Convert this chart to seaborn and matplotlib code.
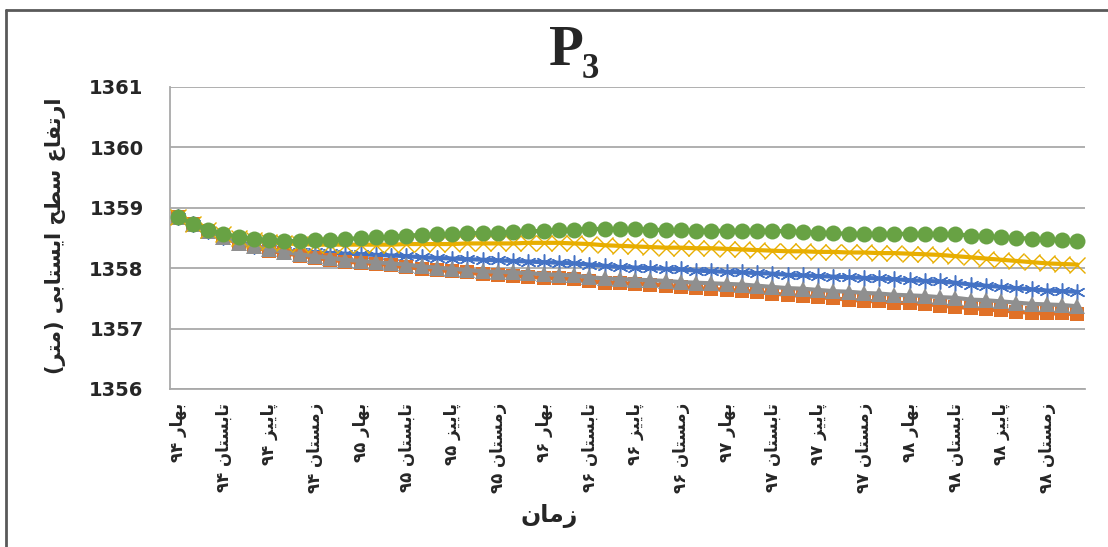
import numpy as np
import pandas as pd
import matplotlib
matplotlib.use("Agg")
import matplotlib.pyplot as plt
from matplotlib.lines import Line2D
import seaborn as sns

# ---------------------------------------------------------------- data
seasons = ["بهار", "تابستان", "پاییز", "زمستان"]
years = ["۹۴", "۹۵", "۹۶", "۹۷", "۹۸"]
tick_labels = [f"{s} {y}" for y in years for s in seasons]

title_main = "P"
title_sub = "3"
x_title = "زمان"
y_title = "ارتفاع سطح ایستابی (متر)"

y_ticks = [1356, 1357, 1358, 1359, 1360, 1361]

# monthly water-table elevation (m), 60 months
series_blue = [1358.85, 1358.73, 1358.62, 1358.52, 1358.44, 1358.37, 1358.32, 1358.29, 1358.27, 1358.26,
               1358.25, 1358.24, 1358.23, 1358.22, 1358.21, 1358.20, 1358.18, 1358.17, 1358.16, 1358.15,
               1358.14, 1358.13, 1358.12, 1358.11, 1358.10, 1358.09, 1358.08, 1358.06, 1358.04, 1358.02,
               1358.01, 1358.00, 1357.99, 1357.98, 1357.96, 1357.95, 1357.94, 1357.93, 1357.92, 1357.91,
               1357.89, 1357.88, 1357.87, 1357.86, 1357.85, 1357.84, 1357.83, 1357.82, 1357.80, 1357.79,
               1357.78, 1357.76, 1357.73, 1357.71, 1357.69, 1357.67, 1357.65, 1357.63, 1357.62, 1357.61]
series_orange = [1358.85, 1358.73, 1358.62, 1358.51, 1358.41, 1358.35, 1358.29, 1358.25, 1358.21, 1358.17,
                 1358.14, 1358.11, 1358.09, 1358.07, 1358.05, 1358.02, 1357.99, 1357.97, 1357.95, 1357.93,
                 1357.90, 1357.89, 1357.87, 1357.86, 1357.84, 1357.83, 1357.82, 1357.78, 1357.76, 1357.75,
                 1357.74, 1357.73, 1357.71, 1357.69, 1357.67, 1357.66, 1357.64, 1357.63, 1357.61, 1357.58,
                 1357.56, 1357.54, 1357.52, 1357.50, 1357.48, 1357.46, 1357.45, 1357.43, 1357.42, 1357.41,
                 1357.38, 1357.36, 1357.34, 1357.32, 1357.30, 1357.28, 1357.26, 1357.25, 1357.25, 1357.24]
series_gray = [1358.85, 1358.73, 1358.62, 1358.52, 1358.42, 1358.36, 1358.31, 1358.27, 1358.23, 1358.20,
               1358.17, 1358.14, 1358.12, 1358.10, 1358.08, 1358.06, 1358.03, 1358.01, 1357.99, 1357.97,
               1357.95, 1357.94, 1357.93, 1357.92, 1357.90, 1357.89, 1357.88, 1357.85, 1357.83, 1357.82,
               1357.81, 1357.80, 1357.79, 1357.77, 1357.76, 1357.75, 1357.74, 1357.73, 1357.71, 1357.69,
               1357.67, 1357.66, 1357.64, 1357.62, 1357.61, 1357.59, 1357.58, 1357.56, 1357.55, 1357.54,
               1357.52, 1357.51, 1357.48, 1357.47, 1357.45, 1357.43, 1357.41, 1357.40, 1357.39, 1357.37]
series_yellow = [1358.85, 1358.74, 1358.64, 1358.56, 1358.50, 1358.46, 1358.43, 1358.41, 1358.40, 1358.39,
                 1358.39, 1358.39, 1358.39, 1358.39, 1358.39, 1358.40, 1358.40, 1358.40, 1358.40, 1358.41,
                 1358.41, 1358.41, 1358.41, 1358.42, 1358.42, 1358.42, 1358.41, 1358.40, 1358.38, 1358.37,
                 1358.36, 1358.35, 1358.34, 1358.34, 1358.33, 1358.33, 1358.32, 1358.31, 1358.30, 1358.29,
                 1358.28, 1358.28, 1358.27, 1358.27, 1358.26, 1358.26, 1358.25, 1358.25, 1358.24, 1358.23,
                 1358.22, 1358.20, 1358.18, 1358.16, 1358.14, 1358.12, 1358.10, 1358.08, 1358.07, 1358.06]
series_green = [1358.85, 1358.74, 1358.64, 1358.57, 1358.52, 1358.48, 1358.46, 1358.45, 1358.45, 1358.46,
                1358.47, 1358.48, 1358.50, 1358.51, 1358.52, 1358.54, 1358.55, 1358.56, 1358.57, 1358.58,
                1358.58, 1358.59, 1358.60, 1358.61, 1358.62, 1358.63, 1358.64, 1358.65, 1358.65, 1358.65,
                1358.65, 1358.64, 1358.63, 1358.63, 1358.62, 1358.62, 1358.62, 1358.62, 1358.62, 1358.62,
                1358.61, 1358.60, 1358.59, 1358.58, 1358.57, 1358.57, 1358.57, 1358.57, 1358.57, 1358.57,
                1358.57, 1358.56, 1358.54, 1358.53, 1358.51, 1358.50, 1358.49, 1358.48, 1358.46, 1358.45]

# ---------------------------------------------------------------- Persian text layout helpers
# contextual forms: isolated, final, initial, medial
_FORMS = {
    "\u0627": ("\uFE8D", "\uFE8E", None, None),
    "\u0628": ("\uFE8F", "\uFE90", "\uFE91", "\uFE92"),
    "\u062A": ("\uFE95", "\uFE96", "\uFE97", "\uFE98"),
    "\u062D": ("\uFEA1", "\uFEA2", "\uFEA3", "\uFEA4"),
    "\u0631": ("\uFEAD", "\uFEAE", None, None),
    "\u0632": ("\uFEAF", "\uFEB0", None, None),
    "\u0633": ("\uFEB1", "\uFEB2", "\uFEB3", "\uFEB4"),
    "\u0637": ("\uFEC1", "\uFEC2", "\uFEC3", "\uFEC4"),
    "\u0639": ("\uFEC9", "\uFECA", "\uFECB", "\uFECC"),
    "\u0641": ("\uFED1", "\uFED2", "\uFED3", "\uFED4"),
    "\u0645": ("\uFEE1", "\uFEE2", "\uFEE3", "\uFEE4"),
    "\u0646": ("\uFEE5", "\uFEE6", "\uFEE7", "\uFEE8"),
    "\u0647": ("\uFEE9", "\uFEEA", "\uFEEB", "\uFEEC"),
    "\u064A": ("\uFEF1", "\uFEF2", "\uFEF3", "\uFEF4"),
    "\u067E": ("\uFB56", "\uFB57", "\uFB58", "\uFB59"),
    "\u06CC": ("\uFBFC", "\uFBFD", "\uFBFE", "\uFBFF"),
}
_MIRROR = {"(": ")", ")": "("}


def _shape(text):
    out = []
    for i, ch in enumerate(text):
        forms = _FORMS.get(ch)
        if forms is None:
            out.append(ch)
            continue
        prev = _FORMS.get(text[i - 1]) if i > 0 else None
        nxt = _FORMS.get(text[i + 1]) if i + 1 < len(text) else None
        join_prev = prev is not None and prev[2] is not None
        join_next = forms[2] is not None and nxt is not None
        if join_prev and join_next:
            out.append(forms[3])
        elif join_prev:
            out.append(forms[1])
        elif join_next:
            out.append(forms[2])
        else:
            out.append(forms[0])
    return "".join(out)


def rtl(text):
    shaped = _shape(text)
    runs = []
    for ch in shaped:
        kind = ch.isdigit()
        if runs and runs[-1][0] == kind:
            runs[-1][1].append(ch)
        else:
            runs.append([kind, [ch]])
    out = []
    for kind, chars in reversed(runs):
        if kind:
            out.extend(chars)
        else:
            out.extend(_MIRROR.get(c, c) for c in reversed(chars))
    return "".join(out)


# ---------------------------------------------------------------- figure
sns.set_style("white")
plt.rcParams["font.family"] = ["DejaVu Sans"]

W, H = 1108, 547
fig = plt.figure(figsize=(W / 100, H / 100), dpi=100)
ax = fig.add_axes([170 / W, 1 - 389 / H, (1085 - 170) / W, (389 - 87) / H])

months = np.arange(len(series_blue))
df = pd.DataFrame({
    "month": months,
    "blue": series_blue,
    "orange": series_orange,
    "gray": series_gray,
    "yellow": series_yellow,
    "green": series_green,
})

styles = [
    ("blue", "#4472C4", (6, 2, 0), 11.5, 1.1, "none", 3.0),
    ("orange", "#E07128", "s", 9.5, 0.0, None, 3.0),
    ("gray", "#8F8F8F", "^", 11, 0.0, None, 3.0),
    ("yellow", "#E8AE00", "x", 11, 1.0, "none", 3.0),
    ("green", "#68A244", "o", 11.5, 0.0, None, 3.0),
]
for z, (col, color, marker, ms, mew, mfc, lw) in enumerate(styles):
    kws = dict(marker=marker, markersize=ms, markeredgewidth=mew,
               markeredgecolor=color, linewidth=lw, zorder=3 + z)
    kws["markerfacecolor"] = color if mfc is None else mfc
    sns.lineplot(data=df, x="month", y=col, color=color, ax=ax,
                 errorbar=None, legend=False, **kws)

grid_color = "#A9A9A9"
ax.set_xlim(-0.5, len(months) - 0.5)
ax.set_ylim(y_ticks[0], y_ticks[-1])
ax.set_yticks(y_ticks)
ax.set_yticklabels([str(v) for v in y_ticks], fontsize=14, fontweight="bold")
ax.yaxis.grid(True, color=grid_color, linewidth=1.3)
ax.xaxis.grid(False)
ax.set_axisbelow(True)

ax.set_xticks(np.arange(0, len(months), 3))
ax.set_xticklabels([rtl(t) for t in tick_labels], rotation=90,
                   fontsize=12, fontweight="bold")
ax.set_xticks(np.arange(-0.5, len(months), 3), minor=True)
ax.tick_params(axis="x", which="major", length=0, pad=10)
ax.tick_params(axis="x", which="minor", length=6, width=1.3, color=grid_color)
ax.tick_params(axis="y", length=0, pad=19)
ax.set_xlabel("")
ax.set_ylabel("")

for side in ("top", "right"):
    ax.spines[side].set_visible(False)
for side in ("left", "bottom"):
    ax.spines[side].set_color(grid_color)
    ax.spines[side].set_linewidth(1.3)

# title with subscript
fig.text(549 / W, 1 - 65 / H, title_main, family="Liberation Serif",
         weight="bold", fontsize=41, ha="left", va="baseline")
fig.text(582 / W, 1 - 78 / H, title_sub, family="Liberation Serif",
         weight="bold", fontsize=25, ha="left", va="baseline")

# axis titles
fig.text(56 / W, 1 - 236 / H, rtl(y_title), rotation=90, fontsize=15,
         fontweight="bold", ha="center", va="center")
fig.text(549 / W, 1 - 516 / H, rtl(x_title), fontsize=17,
         fontweight="bold", ha="center", va="center")

# chart frame
frame = dict(color="#595959", linewidth=2.0, transform=fig.transFigure)
fig.add_artist(Line2D([6 / W, 1.0], [1 - 10 / H, 1 - 10 / H], **frame))
fig.add_artist(Line2D([6 / W, 6 / W], [1 - 10 / H, 0.0], **frame))

fig.savefig("out.png", dpi=100)
